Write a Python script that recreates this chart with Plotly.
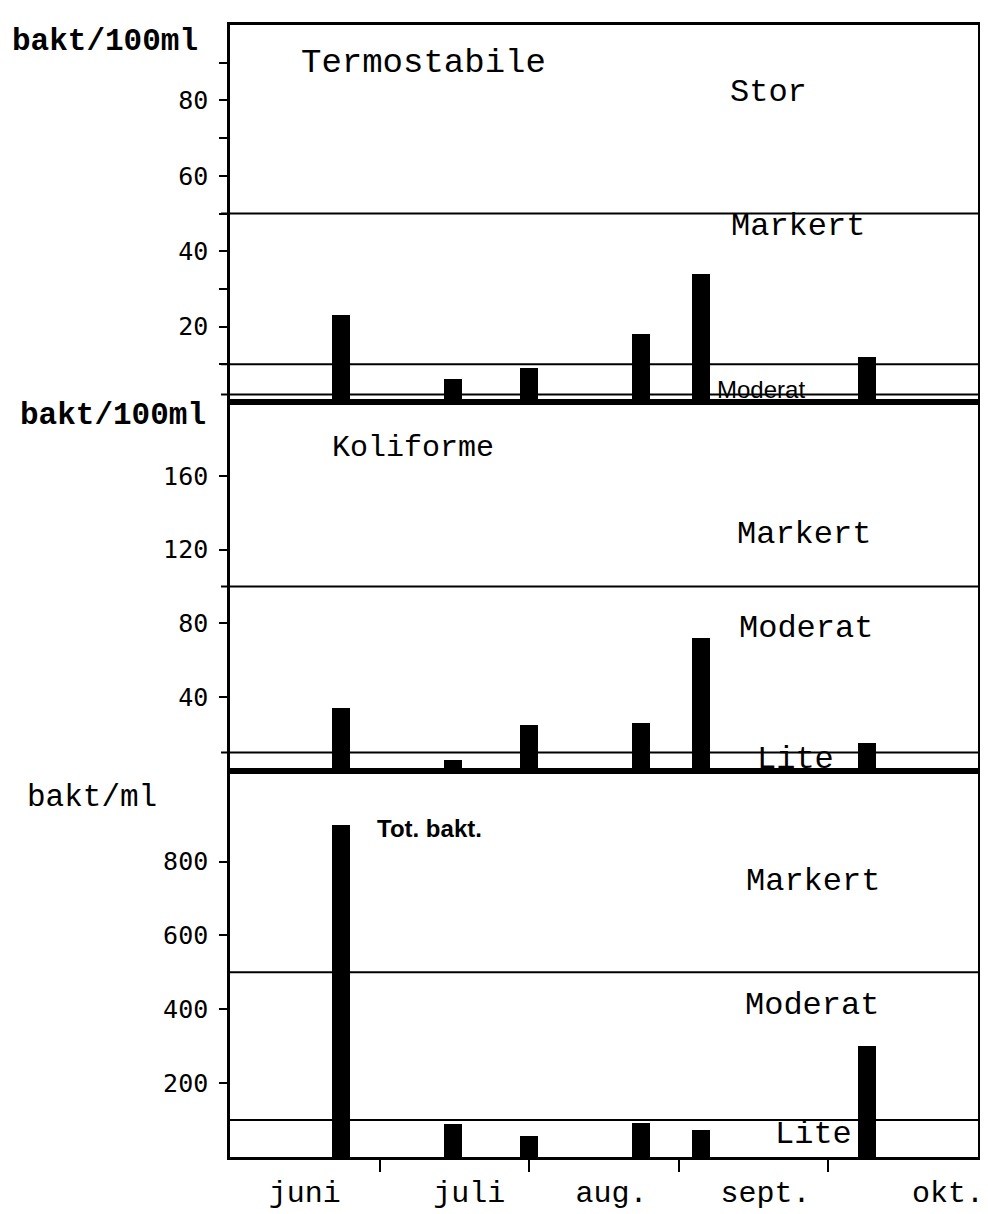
import plotly.graph_objects as go
from plotly.subplots import make_subplots

# ---- data ----
sample_pos = [0.74, 1.49, 2.0, 2.75, 3.15, 4.26]   # sampling dates, in months after 1 June
termostabile = [23, 6, 9, 18, 34, 12]               # bakt/100ml
koliforme = [34, 6, 25, 26, 72, 15]                 # bakt/100ml
tot_bakt = [900, 88, 57, 93, 73, 300]               # bakt/ml

month_labels = ["juni", "juli", "aug.", "sept.", "okt."]
month_label_pos = [0.5, 1.6, 2.55, 3.58, 4.8]
month_bounds = [1, 2, 3, 4]

termo_limits = [2, 10, 50]
koli_limits = [10, 100]
tot_limits = [100, 500]

termo_ticks = [20, 40, 60, 80]
termo_minor = [10, 30, 50, 70, 90]
koli_ticks = [40, 80, 120, 160]
tot_ticks = [200, 400, 600, 800]

MONO = "Liberation Mono, Courier New, monospace"
NUM = "DejaVu Sans Mono, monospace"
SANS = "Liberation Sans, Arial, sans-serif"

fig = make_subplots(rows=3, cols=1, shared_xaxes=True, vertical_spacing=0,
                    row_heights=[377, 369, 386])

for r, vals in zip([1, 2, 3], [termostabile, koliforme, tot_bakt]):
    fig.add_trace(go.Bar(x=sample_pos, y=vals, width=0.12,
                         marker=dict(color="black", line=dict(width=0)),
                         showlegend=False, hoverinfo="skip"), row=r, col=1)

# threshold lines
for yref, lims, x0 in [("y", termo_limits, -0.012), ("y2", koli_limits, -0.012),
                       ("y3", tot_limits, 0)]:
    for v in lims:
        fig.add_shape(type="line", xref="paper", yref=yref, x0=x0, x1=1, y0=v, y1=v,
                      line=dict(color="black", width=2))

axis_common = dict(showline=True, linecolor="black", linewidth=2.5, mirror=True,
                   showgrid=False, zeroline=False, automargin=False)

fig.update_xaxes(range=[0, 5], ticks="", showticklabels=False, **axis_common)
fig.update_xaxes(row=3, col=1, showticklabels=True, tickmode="array",
                 tickvals=month_label_pos, ticktext=month_labels, ticks="",
                 ticklabelstandoff=6,
                 tickfont=dict(family=MONO, size=30, color="black"),
                 minor=dict(tickmode="array", tickvals=month_bounds, ticks="outside",
                            ticklen=12, tickwidth=2, tickcolor="black"))

ycommon = dict(ticks="outside", ticklen=8, tickwidth=2, tickcolor="black",
               ticklabelstandoff=6,
               tickfont=dict(family=NUM, size=25, color="black"), **axis_common)
fig.update_yaxes(row=1, col=1, range=[0, 100], tickmode="array", tickvals=termo_ticks,
                 minor=dict(tickmode="array", tickvals=termo_minor, ticks="outside",
                            ticklen=8, tickwidth=2, tickcolor="black"), **ycommon)
fig.update_yaxes(row=2, col=1, range=[0, 200], tickmode="array", tickvals=koli_ticks, **ycommon)
fig.update_yaxes(row=3, col=1, range=[0, 1045], tickmode="array", tickvals=tot_ticks, **ycommon)

def txt(text, x, y, xref, yref, size=32, family=MONO, xanchor="center", bold=False):
    fig.add_annotation(text=("<b>%s</b>" % text) if bold else text, x=x, y=y,
                       xref=xref, yref=yref, showarrow=False, xanchor=xanchor,
                       yanchor="middle", font=dict(family=family, size=size, color="black"))

# unit labels
txt("bakt/100ml", -0.294, 0.985, "paper", "paper", size=31, xanchor="left", bold=True)
txt("bakt/100ml", -0.283, 0.655, "paper", "paper", size=31, xanchor="left", bold=True)
txt("bakt/ml", -0.274, 0.318, "paper", "paper", size=31, xanchor="left")

# panel texts
txt("Termostabile", 0.46, 90, "x", "y", size=34, xanchor="left")
txt("Stor", 3.6, 82, "x", "y")
txt("Markert", 3.8, 46.5, "x", "y")
txt("Moderat", 3.55, 3.4, "x", "y", size=24, family=SANS)

txt("Koliforme", 0.67, 175, "x2", "y2", size=30, xanchor="left")
txt("Markert", 3.84, 128, "x2", "y2")
txt("Moderat", 3.85, 77, "x2", "y2")
txt("Lite", 3.78, 6, "x2", "y2")

txt("Tot. bakt.", 0.97, 890, "x3", "y3", size=24, family=SANS, xanchor="left", bold=True)
txt("Markert", 3.9, 745, "x3", "y3")
txt("Moderat", 3.89, 410, "x3", "y3")
txt("Lite", 3.9, 60, "x3", "y3")

fig.update_layout(width=980, height=1206, paper_bgcolor="white", plot_bgcolor="white",
                  margin=dict(l=222, r=10, t=17, b=57), bargap=0,
                  font=dict(family=MONO, color="black"))

fig.write_html("out.html")
